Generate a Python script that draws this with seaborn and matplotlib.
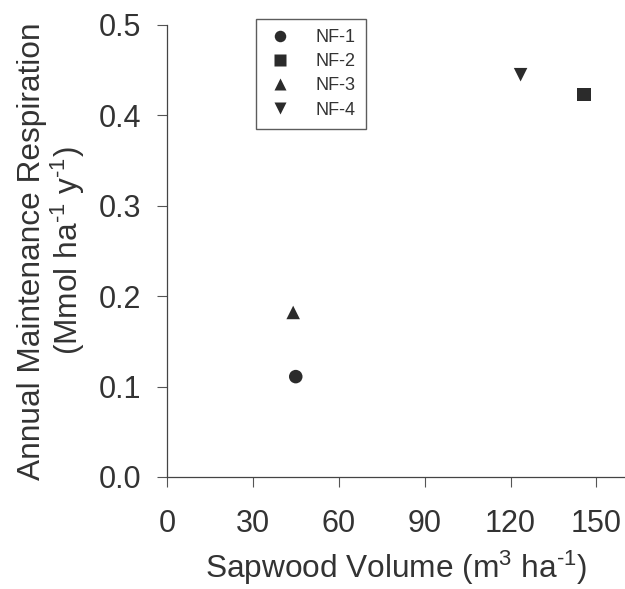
import pandas as pd
import matplotlib
matplotlib.use('Agg')
import matplotlib.pyplot as plt
import seaborn as sns

# values
stands = ['NF-1', 'NF-2', 'NF-3', 'NF-4']
sapwood_volume = [44.9, 145.6, 44.0, 123.5]
maint_resp = [0.111, 0.423, 0.182, 0.445]
x_ticks = [0, 30, 60, 90, 120, 150]
y_ticks = [0.0, 0.1, 0.2, 0.3, 0.4, 0.5]

df = pd.DataFrame({'Stand': stands, 'Volume': sapwood_volume, 'Resp': maint_resp})

sns.set_style('ticks')
plt.rcParams['font.family'] = ['Liberation Sans', 'DejaVu Sans']
plt.rcParams['mathtext.fontset'] = 'custom'
plt.rcParams['mathtext.rm'] = 'Liberation Sans'
plt.rcParams['mathtext.it'] = 'Liberation Sans'
plt.rcParams['mathtext.default'] = 'regular'

ink = '#2b2b2b'
txt = '#333333'
fig = plt.figure(figsize=(6.25, 5.89), dpi=100)
ax = fig.add_axes([0.2677, 0.1902, 0.7323, 0.7674])

markers = {'NF-1': 'o', 'NF-2': 's', 'NF-3': '^', 'NF-4': 'v'}
sns.scatterplot(data=df, x='Volume', y='Resp', style='Stand', markers=markers,
                color=ink, s=95, edgecolor='none', ax=ax)

ax.set_xlim(0, 160)
ax.set_ylim(0, 0.5)
ax.set_xticks(x_ticks)
ax.set_yticks(y_ticks)
ax.set_yticklabels([f'{v:.1f}' for v in y_ticks])
ax.tick_params(axis='both', labelsize=22, colors='#555555', labelcolor=txt,
               length=7, width=0.8)
ax.tick_params(axis='x', pad=16)
ax.tick_params(axis='y', pad=12)
sns.despine(ax=ax)
for side in ['left', 'bottom']:
    ax.spines[side].set_color('#444444')
    ax.spines[side].set_linewidth(0.9)

hy = '\u2010'
ax.set_xlabel(f'Sapwood Volume (m$^{{3}}$ ha$^{{{hy}1}}$)', fontsize=22.8, color=txt, labelpad=7)
ax.set_ylabel(f'Annual Maintenance Respiration\n(Mmol ha$^{{{hy}1}}$ y$^{{{hy}1}}$)', fontsize=22.8,
              color=txt, labelpad=8, linespacing=1.08)

handles, labels = ax.get_legend_handles_labels()
leg = ax.legend(handles, labels, loc='upper left', bbox_to_anchor=(0.194, 1.013),
                borderaxespad=0, fontsize=13, frameon=True, fancybox=False,
                edgecolor='#333333', handlelength=1.6, handletextpad=1.15,
                borderpad=0.55, labelspacing=0.4, markerscale=0.85)
leg.get_frame().set_linewidth(1.0)
for t in leg.get_texts():
    t.set_color(txt)

fig.savefig('out.png', dpi=100, facecolor='white')
